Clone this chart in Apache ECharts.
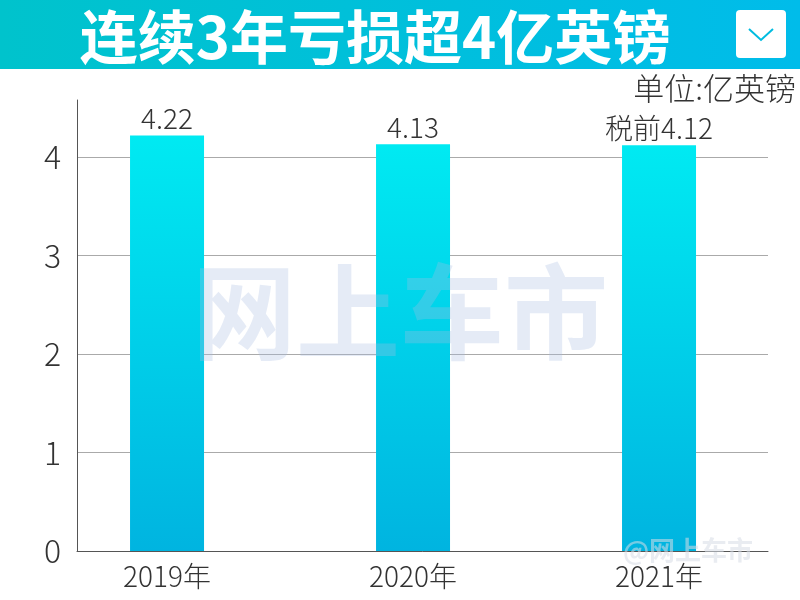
<!DOCTYPE html>
<html><head><meta charset="utf-8">
<script src="https://cdn.jsdelivr.net/npm/echarts@6/dist/echarts.min.js"></script>
<style>html,body{margin:0;padding:0;background:#fff}#c{width:800px;height:600px}</style>
</head><body><div id="c"></div>
<script>
const titleText = '连续3年亏损超4亿英镑';
const unitText = '单位:亿英镑';
const categories = ['2019年', '2020年', '2021年'];
const values = [4.22, 4.13, 4.12];
const barLabels = ['4.22', '4.13', '税前4.12'];
const yTicks = [0, 1, 2, 3, 4];

const chart = echarts.init(document.getElementById('c'), null, {renderer: 'canvas'});
const font = '"Noto Sans CJK SC", "Noto Sans", sans-serif';
chart.setOption({
  animation: false,
  backgroundColor: '#fff',
  grid: {left: 77, right: 32, top: 100, bottom: 49, containLabel: false},
  xAxis: {
    type: 'value', min: -0.366, max: 2.443,
    splitLine: {show: false},
    axisTick: {show: false},
    axisLine: {show: true, onZero: false, lineStyle: {color: '#555', width: 1}},
    axisLabel: {
      showMinLabel: false, showMaxLabel: false,
      margin: 11, fontSize: 28, color: '#333', fontFamily: font, fontWeight: 300,
      formatter: v => (Number.isInteger(v) && categories[v] !== undefined) ? categories[v] : ''
    }
  },
  yAxis: {
    type: 'value', min: 0, max: 4.58, interval: 1,
    axisLine: {show: true, onZero: false, lineStyle: {color: '#555', width: 1}},
    axisTick: {show: false},
    splitLine: {show: true, showMaxLine: false, lineStyle: {color: '#aaa', width: 1}},
    axisLabel: {
      showMaxLabel: false, margin: 16, fontSize: 32, color: '#333', fontFamily: font, fontWeight: 300,
      formatter: v => yTicks.includes(v) ? String(v) : ''
    }
  },
  series: [{
    type: 'bar',
    barWidth: 74,
    data: values.map((v, i) => [i, v]),
    itemStyle: {
      color: new echarts.graphic.LinearGradient(0, 0, 0, 1, [
        {offset: 0, color: '#00eaf2'},
        {offset: 1, color: '#00b4e0'}
      ])
    },
    label: {
      show: true, position: 'top', distance: 3,
      fontSize: 28, color: '#333', fontFamily: font, fontWeight: 300,
      formatter: p => barLabels[p.dataIndex]
    },
    z: 2
  }],
  graphic: [
    {type: 'rect', left: 0, top: 0, shape: {width: 800, height: 69}, z: 0,
     style: {fill: new echarts.graphic.LinearGradient(0, 0, 1, 0, [
       {offset: 0, color: '#00c3cc'}, {offset: 1, color: '#00bcea'}])}},
    {type: 'text', x: 375, y: 37, z: 10,
     style: {text: titleText, fill: '#fff', font: 'bold 58px ' + font, align: 'center', verticalAlign: 'middle'}},
    {type: 'rect', x: 736, y: 10, shape: {width: 50, height: 48, r: 4}, z: 10, style: {fill: '#fff'}},
    {type: 'polyline', x: 0, y: 0, z: 11, shape: {points: [[749, 29], [761, 40], [773, 29]]},
     style: {stroke: '#00bce0', lineWidth: 2, fill: null}},
    {type: 'text', x: 796, y: 88, z: 10,
     style: {text: unitText, fill: '#333', font: '300 31px ' + font, align: 'right', verticalAlign: 'middle'}},
    {type: 'text', x: 400, y: 312, z: 20,
     style: {text: '网上车市', fill: 'rgba(170,190,225,0.3)', font: 'bold 104px ' + font, align: 'center', verticalAlign: 'middle'}},
    {type: 'text', x: 688, y: 550, z: 20,
     style: {text: '@网上车市', fill: 'rgba(215,220,230,0.55)', font: 'bold 26px ' + font, align: 'center', verticalAlign: 'middle'}}
  ]
});
</script></body></html>
